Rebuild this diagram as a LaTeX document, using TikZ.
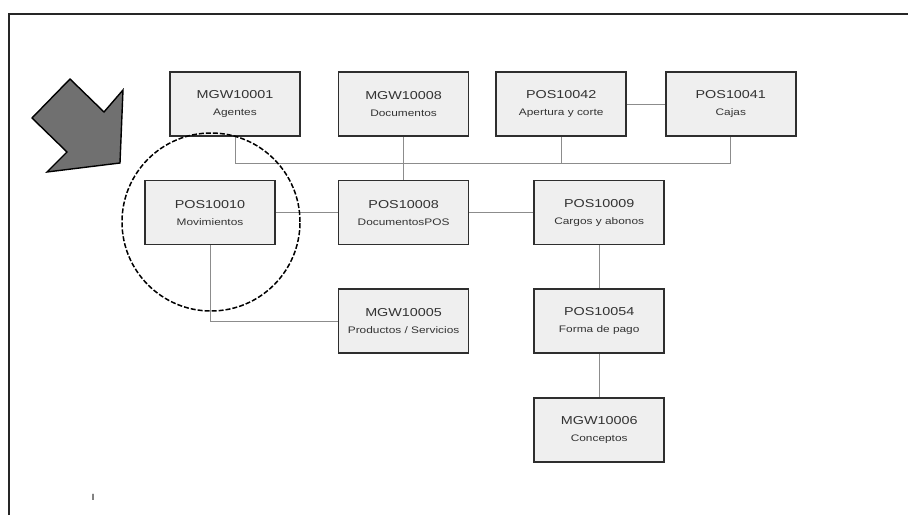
\documentclass[tikz,border=0pt]{standalone}
\usepackage{fontspec}
\setmainfont{Liberation Sans}
\newfontfamily\boxfont[FakeStretch=1.25]{Liberation Sans}
\usepackage{xcolor}
\usetikzlibrary{positioning, calc}

\definecolor{boxfill}{HTML}{EFEFEF}
\definecolor{boxline}{HTML}{2E2E2E}
\definecolor{linkgray}{HTML}{8C8C8C}
\definecolor{arrowgray}{HTML}{707070}

\begin{document}
\begin{tikzpicture}[
        x=1pt, y=1pt,
        node distance=43pt and 37pt,
        table/.style={draw=boxline, fill=boxfill, line width=1.6pt,
            minimum width=130pt, minimum height=64pt, inner sep=0pt,
            align=center, text=black!80,
            font=\boxfont\fontsize{11.5}{17}\selectfont},
        link/.style={draw=linkgray, line width=0.9pt},
        focus/.style={draw=black, dash pattern=on 5pt off 2pt,
            line width=1.5pt, circle, minimum size=178pt, inner sep=0pt},
        frame/.style={draw=black!85, line width=2pt},
    ]
    \useasboundingbox (0,0) rectangle (908,515);

    % page frame
    \draw[frame] (9,0) -- (9,501) -- (908,501);
    \node[font=\fontsize{9}{9}\selectfont\bfseries, text=black!75] (mark) at (93,18) {I};

    % pointer arrow
    \draw[draw=black, fill=arrowgray, line width=1.4pt, line join=miter]
        (32,397) -- (70,436) -- (104,403) -- (123,425) -- (120,352)
        -- (47,343) -- (67,363) -- cycle;

    % 1. Top row
    \node[table] at (235,411) (agentes)
        {MGW10001\\{\fontsize{9.5}{17}\selectfont Agentes}};
    \node[table, right=37pt of agentes] (documentos)
        {MGW10008\\{\fontsize{9.5}{17}\selectfont Documentos}};
    \node[table, right=26pt of documentos] (apertura)
        {POS10042\\{\fontsize{9.5}{17}\selectfont Apertura y corte}};
    \node[table, right=38pt of apertura] (cajas)
        {POS10041\\{\fontsize{9.5}{17}\selectfont Cajas}};

    % 2. Middle row
    \node[table, below=of documentos] (docpos)
        {POS10008\\{\fontsize{9.5}{17}\selectfont DocumentosPOS}};
    \node[table, left=62pt of docpos] (movimientos)
        {POS10010\\{\fontsize{9.5}{17}\selectfont Movimientos}};
    \node[table, right=64pt of docpos] (cargos)
        {POS10009\\{\fontsize{9.5}{17}\selectfont Cargos y abonos}};

    % 3. Lower rows
    \node[table, below=of docpos] (productos)
        {MGW10005\\{\fontsize{9.5}{17}\selectfont Productos / Servicios}};
    \node[table, below=of cargos] (formapago)
        {POS10054\\{\fontsize{9.5}{17}\selectfont Forma de pago}};
    \node[table, below=of formapago] (conceptos)
        {MGW10006\\{\fontsize{9.5}{17}\selectfont Conceptos}};

    % --- Links ---
    \coordinate (bus) at ($(agentes.south)+(0,-27)$);
    \path[link] (agentes.south) -- (bus) -| (cajas.south);
    \path[link] (documentos) -- (docpos);
    \path[link] (apertura.south) -- (apertura.south |- bus);
    \path[link] (apertura) -- (cajas);
    \path[link] (movimientos) -- (docpos);
    \path[link] (docpos) -- (cargos);
    \path[link] (cargos) -- (formapago);
    \path[link] (formapago) -- (conceptos);
    \path[link] (movimientos.south) |- (productos.west);

    % highlight
    \node[focus] at (211,293) (zone) {};

\end{tikzpicture}
\end{document}
